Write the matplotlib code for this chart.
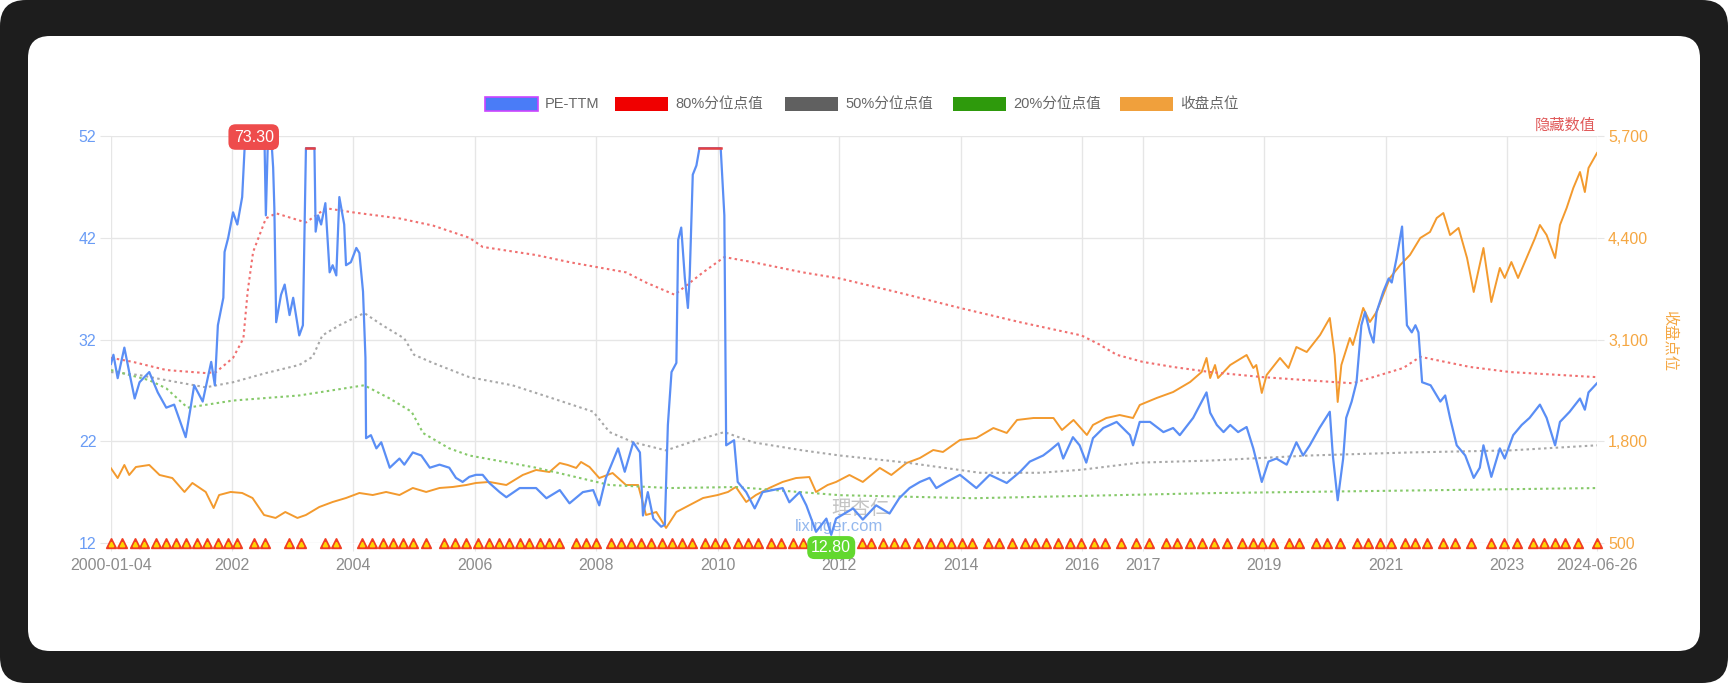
import numpy as np
import matplotlib
matplotlib.use('Agg')
import matplotlib.pyplot as plt
from matplotlib.patches import FancyBboxPatch, Rectangle

plt.rcParams['font.family'] = ['Liberation Sans', 'Noto Sans CJK SC', 'DejaVu Sans']

BASE_YEAR = 2000.0

# ---------------- data (years offset from 2000) ----------------
pe_t = [0.01, 0.05, 0.12, 0.23, 0.31, 0.40, 0.48, 0.64, 0.78, 0.92, 1.05, 1.24, 1.31, 1.38, 1.52,
        1.66, 1.72, 1.77, 1.86, 1.88, 1.94, 2.02, 2.09, 2.17, 2.21, 2.54, 2.56, 2.59, 2.66, 2.68,
        2.70, 2.73, 2.81, 2.87, 2.95, 3.01, 3.11, 3.17, 3.22, 3.36, 3.38, 3.42, 3.47, 3.54, 3.61,
        3.66, 3.72, 3.77, 3.85, 3.88, 3.96, 4.05, 4.10, 4.16, 4.20, 4.21, 4.29, 4.38, 4.46, 4.60,
        4.76, 4.84, 4.98, 5.12, 5.26, 5.42, 5.58, 5.69, 5.80, 5.91, 6.02, 6.13, 6.24, 6.41, 6.52,
        6.74, 7.01, 7.18, 7.40, 7.56, 7.78, 7.95, 8.05, 8.16, 8.36, 8.47, 8.61, 8.72, 8.77, 8.85,
        8.94, 9.07, 9.13, 9.18, 9.24, 9.32, 9.35, 9.40, 9.46, 9.51, 9.54, 9.59, 9.65, 9.70, 10.05,
        10.11, 10.14, 10.27, 10.33, 10.47, 10.61, 10.74, 11.07, 11.18, 11.35, 11.46, 11.62, 11.79,
        11.87, 11.95, 12.12, 12.23, 12.39, 12.61, 12.83, 12.99, 13.16, 13.33, 13.49, 13.60, 13.77,
        13.99, 14.26, 14.48, 14.76, 14.98, 15.14, 15.36, 15.47, 15.61, 15.69, 15.85, 15.96, 16.07,
        16.18, 16.35, 16.57, 16.79, 16.84, 16.95, 17.12, 17.34, 17.50, 17.61, 17.83, 18.05, 18.11,
        18.22, 18.33, 18.44, 18.57, 18.71, 18.82, 18.96, 19.07, 19.20, 19.37, 19.53, 19.64, 19.75,
        19.91, 20.08, 20.13, 20.21, 20.30, 20.35, 20.44, 20.52, 20.60, 20.66, 20.74, 20.80, 20.85,
        20.96, 21.05, 21.10, 21.18, 21.27, 21.35, 21.43, 21.49, 21.54, 21.60, 21.74, 21.90, 21.98,
        22.06, 22.17, 22.31, 22.45, 22.55, 22.61, 22.74, 22.88, 22.96, 23.10, 23.24, 23.37, 23.54,
        23.65, 23.79, 23.87, 24.03, 24.20, 24.28, 24.34, 24.48]
pe_v = [29.6, 30.5, 28.2, 31.2, 28.8, 26.2, 27.8, 28.8, 26.8, 25.3, 25.6, 22.4, 24.9, 27.5, 25.9,
        29.8, 27.5, 33.4, 36.1, 40.6, 42.0, 44.5, 43.3, 46.0, 50.8, 50.8, 44.2, 50.8, 50.8, 48.9,
        44.9, 33.7, 36.4, 37.4, 34.4, 36.1, 32.4, 33.4, 50.8, 50.8, 42.6, 44.2, 43.3, 45.4, 38.6,
        39.3, 38.3, 46.0, 43.3, 39.3, 39.6, 41.0, 40.5, 36.7, 30.2, 22.3, 22.6, 21.3, 21.9, 19.4,
        20.3, 19.7, 20.9, 20.6, 19.4, 19.7, 19.4, 18.4, 18.0, 18.5, 18.7, 18.7, 17.9, 17.0, 16.5,
        17.4, 17.4, 16.4, 17.2, 15.9, 17.0, 17.2, 15.7, 18.4, 21.3, 19.0, 21.9, 20.9, 14.7, 17.0,
        14.4, 13.6, 13.8, 23.6, 28.8, 29.7, 41.8, 43.0, 38.0, 35.1, 38.3, 48.2, 49.1, 50.8, 50.8,
        44.2, 21.6, 22.1, 18.0, 17.0, 15.4, 17.0, 17.4, 16.0, 17.0, 15.7, 13.1, 14.4,
        12.8, 14.4, 15.0, 15.4, 14.3, 15.7, 14.9, 16.4, 17.4, 18.0, 18.4, 17.4, 18.0,
        18.7, 17.4, 18.7, 17.9, 19.0, 20.0, 20.6, 21.1, 21.8, 20.3, 22.4, 21.6, 19.9,
        22.3, 23.3, 23.9, 22.6, 21.6, 23.9, 23.9, 22.9, 23.3, 22.6, 24.3, 26.8, 24.8,
        23.6, 22.9, 23.6, 22.9, 23.4, 21.3, 18.0, 20.0, 20.3, 19.7, 21.9, 20.6, 21.6,
        23.3, 24.9, 20.6, 16.2, 20.3, 24.3, 25.9, 27.8, 33.4, 34.7, 32.7, 31.7, 34.7,
        36.7, 38.0, 37.6, 40.0, 43.1, 33.4, 32.7, 33.4, 32.7, 27.8, 27.5, 25.9, 26.5,
        24.3, 21.6, 20.6, 18.4, 19.4, 21.6, 18.5, 21.3, 20.3, 22.6, 23.6, 24.3, 25.6,
        24.3, 21.6, 23.9, 24.9, 26.2, 25.1, 26.8, 27.7]
pe_cap = 50.8
pe_max_label = "73.30"
pe_max_t = 2.36
pe_min_label = "12.80"
pe_min_t = 11.87

close_t = [0.01, 0.12, 0.23, 0.31, 0.42, 0.64, 0.81, 1.02, 1.22, 1.35, 1.57, 1.70, 1.79, 1.98, 2.17,
           2.34, 2.53, 2.72, 2.88, 3.08, 3.22, 3.44, 3.66, 3.88, 4.10, 4.32, 4.54, 4.76, 4.98, 5.20,
           5.42, 5.64, 5.86, 6.02, 6.24, 6.52, 6.79, 7.01, 7.23, 7.40, 7.53, 7.67, 7.75, 7.89, 8.05,
           8.27, 8.49, 8.69, 8.82, 8.99, 9.15, 9.32, 9.54, 9.76, 10.00, 10.17, 10.30, 10.47, 10.63,
           10.85, 11.07, 11.29, 11.51, 11.62, 11.81, 11.95, 12.17, 12.39, 12.67, 12.86, 13.11, 13.33,
           13.55, 13.71, 13.99, 14.26, 14.54, 14.76, 14.93, 15.20, 15.53, 15.67, 15.86, 16.08, 16.18,
           16.40, 16.62, 16.84, 16.95, 17.23, 17.50, 17.78, 17.97, 18.05, 18.11, 18.19, 18.24, 18.44,
           18.71, 18.82, 18.87, 18.96, 19.04, 19.26, 19.40, 19.53, 19.70, 19.92, 20.08, 20.16, 20.21,
           20.27, 20.41, 20.46, 20.63, 20.74, 20.85, 21.07, 21.24, 21.40, 21.57, 21.73, 21.84, 21.95,
           22.06, 22.20, 22.34, 22.45, 22.61, 22.74, 22.88, 22.96, 23.07, 23.18, 23.32, 23.46, 23.54,
           23.65, 23.79, 23.87, 23.98, 24.09, 24.20, 24.28, 24.34, 24.48]
close_v = [1454, 1330, 1497, 1369, 1471, 1497, 1369, 1330, 1152, 1267, 1152, 947, 1113, 1152, 1139,
           1075, 858, 820, 896, 820, 858, 960, 1024, 1075, 1139, 1113, 1152, 1113, 1203, 1152,
           1203, 1216, 1241, 1267, 1280, 1241, 1369, 1433, 1407, 1522, 1497, 1459, 1535, 1471, 1330,
           1394, 1241, 1241, 858, 896, 692, 896, 986, 1075, 1113, 1152, 1216, 1024, 1113,
           1203, 1280, 1330, 1343, 1152, 1241, 1280, 1369, 1280, 1459, 1369, 1522, 1586,
           1688, 1663, 1816, 1842, 1969, 1906, 2072, 2097, 2097, 1944, 2072, 1880, 2008,
           2097, 2135, 2097, 2263, 2353, 2429, 2557, 2685, 2864, 2608, 2774, 2608, 2774,
           2902, 2736, 2774, 2417, 2647, 2864, 2736, 3004, 2940, 3158, 3375, 2902, 2302,
           2774, 3119, 3030, 3503, 3324, 3452, 3886, 4052, 4180, 4397, 4474, 4652, 4716,
           4435, 4525, 4141, 3707, 4269, 3579, 4014, 3886, 4090, 3886, 4141, 4397, 4563,
           4435, 4141, 4563, 4780, 5036, 5240, 4984, 5291, 5483]

p80_t = [0.01, 0.37, 0.92, 1.57, 1.74, 2.02, 2.19, 2.26, 2.35, 2.56, 2.73, 3.22, 3.55, 3.99, 4.76, 5.31,
         5.91, 6.13, 7.01, 7.56, 8.49, 8.82, 9.29, 9.76, 10.11, 10.58, 11.40, 12.01, 12.99, 13.99,
         14.98, 15.99, 16.29, 16.57, 17.00, 17.50, 18.11, 18.98, 20.19, 20.46, 21.29, 21.57, 22.39,
         23.05, 24.48]
p80_v = [30.2, 29.8, 29.0, 28.7, 28.8, 30.2, 32.1, 36.7, 40.6, 43.9, 44.4, 43.5, 44.9, 44.5, 43.9, 43.2,
         42.0, 41.1, 40.3, 39.6, 38.6, 37.6, 36.4, 38.6, 40.1, 39.6, 38.6, 38.0, 36.6, 35.1,
         33.7, 32.4, 31.5, 30.5, 29.8, 29.3, 28.8, 28.3, 27.8, 27.7, 29.2, 30.3, 29.3,
         28.8, 28.3]
p50_t = [0.01, 0.48, 0.92, 1.57, 2.02, 2.56, 3.11, 3.33, 3.49, 3.77, 4.18, 4.48, 4.84, 5.00, 5.31, 5.91,
         6.62, 7.29, 7.95, 8.22, 8.61, 9.15, 9.65, 10.11, 10.58, 11.40, 12.01, 13.11, 14.32, 15.31,
         15.99, 16.95, 18.11, 19.75, 21.40, 23.05, 24.48]
p50_v = [28.8, 28.5, 28.0, 27.3, 27.8, 28.7, 29.5, 30.3, 32.4, 33.4, 34.6, 33.4, 32.1, 30.5, 29.7, 28.3,
         27.5, 26.2, 24.9, 22.9, 21.9, 21.1, 22.1, 22.9, 21.9, 21.1, 20.6, 19.9, 18.9, 18.9,
         19.2, 19.9, 20.1, 20.6, 20.9, 21.1, 21.6]
p20_t = [0.01, 0.64, 0.92, 1.27, 2.02, 3.11, 4.18, 4.60, 4.96, 5.15, 5.58, 5.91, 7.01, 8.22, 9.21, 10.30,
         12.01, 14.21, 18.11, 24.48]
p20_v = [29.0, 28.0, 27.2, 25.3, 26.0, 26.5, 27.5, 26.2, 24.9, 22.8, 21.3, 20.6, 19.4, 17.7, 17.4, 17.5,
         16.7, 16.4, 16.9, 17.4]

marker_t = [0.01, 0.19, 0.40, 0.56, 0.75, 0.92, 1.08, 1.25, 1.42, 1.59, 1.77, 1.93, 2.08, 2.36, 2.54,
            2.94, 3.14, 3.54, 3.72, 4.15, 4.31, 4.49, 4.66, 4.82, 4.98, 5.20, 5.50, 5.67, 5.86, 6.05,
            6.23, 6.40, 6.57, 6.75, 6.90, 7.08, 7.23, 7.38, 7.66, 7.84, 8.00, 8.25, 8.41, 8.58, 8.74,
            8.91, 9.09, 9.25, 9.42, 9.58, 9.79, 9.95, 10.12, 10.34, 10.50, 10.66, 10.88, 11.05, 11.24,
            11.41, 12.37, 12.53, 12.72, 12.90, 13.09, 13.30, 13.49, 13.68, 13.85, 14.03, 14.18, 14.45,
            14.63, 14.84, 15.06, 15.23, 15.41, 15.61, 15.81, 15.98, 16.20, 16.38, 16.64, 16.89, 17.11,
            17.39, 17.57, 17.78, 17.97, 18.17, 18.39, 18.64, 18.81, 18.97, 19.15, 19.41, 19.58, 19.85,
            20.04, 20.25, 20.52, 20.71, 20.91, 21.09, 21.32, 21.48, 21.68, 21.95, 22.14, 22.41, 22.73,
            22.95, 23.16, 23.43, 23.61, 23.79, 23.95, 24.17, 24.48]

x_tick_t = [0.01, 2.0, 4.0, 6.0, 8.0, 10.0, 12.0, 14.0, 16.0, 17.0, 19.0, 21.0, 23.0, 24.48]
x_tick_labels = ['2000-01-04', '2002', '2004', '2006', '2008', '2010', '2012', '2014', '2016',
                 '2017', '2019', '2021', '2023', '2024-06-26']
pe_ticks = [12, 22, 32, 42, 52]
close_ticks = [500, 1800, 3100, 4400, 5700]

legend_labels = ['PE-TTM', '80%分位点值', '50%分位点值', '20%分位点值', '收盘点位']
legend_colors = ['#4a7cf7', '#f00000', '#606060', '#2e9a0c', '#f0a03c']

# ---------------- styles ----------------
C_BLUE = '#5a8ef5'
C_ORANGE = '#f39a2e'
C_RED_DOT = '#f07070'
C_GRAY_DOT = '#a8a8a8'
C_GREEN_DOT = '#86c96a'
C_GRID = '#e6e6e6'

W, H = 1728, 683
fig = plt.figure(figsize=(W / 100, H / 100), dpi=100)
fig.patch.set_facecolor('white')

bg = fig.add_axes([0, 0, 1, 1], zorder=-5)
bg.set_xlim(0, W)
bg.set_ylim(H, 0)
bg.axis('off')
bg.add_patch(FancyBboxPatch((0, 0), W, H, boxstyle='round,pad=0,rounding_size=26',
                            fc='#1d1d1d', ec='none'))
bg.add_patch(FancyBboxPatch((28, 36), 1672, 615, boxstyle='round,pad=0,rounding_size=22',
                            fc='white', ec='none'))

# legend drawn in pixel space
leg_patch_x = [485, 615, 785, 953, 1120]
for i, (lab, col) in enumerate(zip(legend_labels, legend_colors)):
    x0 = leg_patch_x[i]
    ec = '#cc44ff' if i == 0 else 'none'
    bg.add_patch(Rectangle((x0, 97), 53, 14, fc=col, ec=ec, lw=1.2))
    bg.text(x0 + 60, 104.5, lab, fontsize=10.5, color='#666666', va='center', ha='left')

bg.text(1596, 126, '隐藏数值', fontsize=11, color='#e05a5a', va='center', ha='right')
bg.text(1670, 340, '收盘点位', fontsize=11, color='#f5a742', va='center', ha='center',
        rotation=-90)

L, R, T, B = 111, 1597, 136, 543
ax = fig.add_axes([L / W, 1 - B / H, (R - L) / W, (B - T) / H])
ax2 = ax.twinx()
ax.set_zorder(3)
ax2.set_zorder(2)
ax.patch.set_visible(False)

xs = lambda t: BASE_YEAR + np.asarray(t, dtype=float)

ax.set_xlim(xs(x_tick_t[0]), xs(x_tick_t[-1]))
ax.set_ylim(12, 52)
ax2.set_ylim(500, 5700)

for s in list(ax.spines.values()) + list(ax2.spines.values()):
    s.set_visible(False)

# grid
for t in x_tick_t:
    ax2.axvline(xs(t), color=C_GRID, lw=1, zorder=0)
for v in close_ticks:
    ax2.axhline(v, color=C_GRID, lw=1, zorder=0)

ax.set_xticks(xs(x_tick_t))
ax.set_xticklabels(x_tick_labels)
ax.tick_params(axis='x', length=6, color=C_GRID, pad=5, labelsize=11.5, labelcolor='#8c8c8c')
ax.set_yticks(pe_ticks)
ax.set_yticklabels([str(v) for v in pe_ticks])
ax.tick_params(axis='y', length=8, color=C_GRID, pad=2.5, labelsize=11.5, labelcolor='#6a9cf5')
ax2.set_yticks(close_ticks)
ax2.set_yticklabels([f'{v:,}' for v in close_ticks])
ax2.tick_params(axis='y', length=5, color=C_GRID, pad=3, labelsize=11.5, labelcolor='#f5a742')

# orange close
ax2.plot(xs(close_t), close_v, color=C_ORANGE, lw=1.4, zorder=3)

# watermark
ax.text(xs(12.35), 15.4, '理杏仁', fontsize=14, color='#8a8a8a', alpha=0.5,
        ha='center', va='center', zorder=0.5)
ax.text(xs(12.0), 13.6, 'lixinger.com', fontsize=12, color='#3d7fe0', alpha=0.55,
        ha='center', va='center', zorder=0.5)

# percentile dotted lines
dot = (0, (1.2, 1.6))
ax.plot(xs(p80_t), p80_v, color=C_RED_DOT, lw=1.5, ls=dot, zorder=2)
ax.plot(xs(p50_t), p50_v, color=C_GRAY_DOT, lw=1.5, ls=dot, zorder=2)
ax.plot(xs(p20_t), p20_v, color=C_GREEN_DOT, lw=1.5, ls=dot, zorder=2)

# PE line
pe_arr = np.array(pe_v)
ax.plot(xs(pe_t), pe_arr, color=C_BLUE, lw=1.6, zorder=3)
capped = np.where(pe_arr >= pe_cap, pe_arr, np.nan)
ax.plot(xs(pe_t), capped, color='#e84040', lw=1.8, zorder=4)

# markers along the bottom
mt = xs(marker_t)
ax.plot(mt, np.full(len(mt), 12.0), ls='none', marker='^', ms=7.5, mfc='#f03c22', mec='#f03c22',
        clip_on=False, zorder=5)
ax.plot(mt, np.full(len(mt), 11.9), ls='none', marker='^', ms=3.2, mfc='#ffd400', mec='#ffd400',
        clip_on=False, zorder=6)

# max / min labels
ax.text(xs(pe_max_t), 51.9, pe_max_label, fontsize=11.5, color='white', ha='center', va='center',
        zorder=8, clip_on=False,
        bbox=dict(boxstyle='round,pad=0.33,rounding_size=0.45', fc='#ee4c4c', ec='none'))
ax.text(xs(pe_min_t), 11.55, pe_min_label, fontsize=11.5, color='white', ha='center', va='center',
        zorder=8, clip_on=False,
        bbox=dict(boxstyle='round,pad=0.25,rounding_size=0.45', fc='#62d82e', ec='none'))

fig.savefig('out.png', dpi=100, facecolor='white')
